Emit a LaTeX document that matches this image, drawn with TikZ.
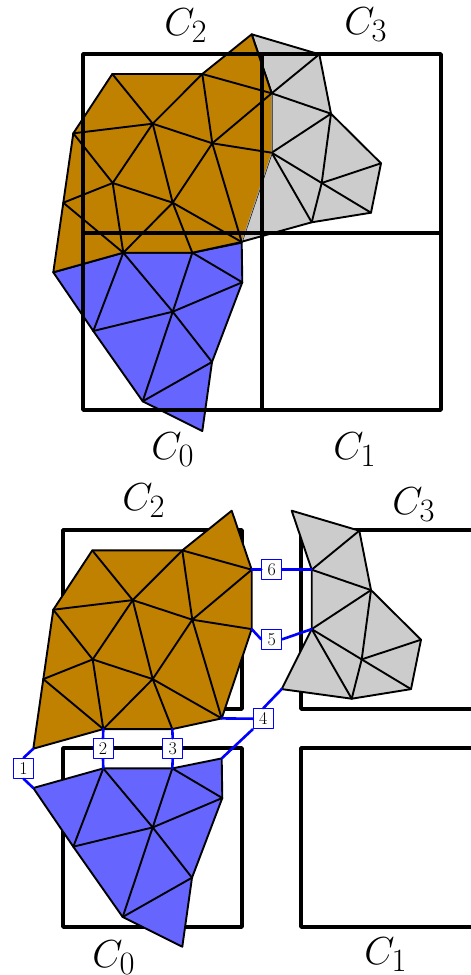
\documentclass[tikz,border=0pt]{standalone}
\definecolor{meshbrown}{RGB}{192,128,0}
\definecolor{meshblue}{RGB}{102,102,255}
\definecolor{meshgray}{RGB}{204,204,204}
\tikzset{
  mesh/.style={line width=1.9pt,black},
  seam/.style={mesh},
  frame/.style={line width=3.8pt,black},
  link/.style={line width=2.6pt,blue},
  tag/.style={draw=blue,line width=1pt,fill=white,minimum size=20pt,inner sep=0pt,font=\fontsize{18}{18}\selectfont},
  cell/.style={anchor=base west,inner sep=0pt,scale=1.57,font=\Huge},
}
\newcommand{\brownmesh}{
  \coordinate (T) at (251.7,34.3);
  \coordinate (p1) at (202.3,74);
  \coordinate (p2) at (112.3,74);
  \coordinate (p3) at (73.3,133.3);
  \coordinate (p4) at (63.3,202.7);
  \coordinate (a) at (53.3,272.3);
  \coordinate (b) at (123.3,252.7);
  \coordinate (c) at (192.3,252.7);
  \coordinate (d) at (241.7,242);
  \coordinate (q1) at (271.7,152.7);
  \coordinate (q2) at (271.7,93.3);
  \coordinate (m1) at (152.7,123.7);
  \coordinate (m2) at (212.3,143.3);
  \coordinate (m3) at (112.7,183);
  \coordinate (m4) at (172.7,202.7);
  \fill[meshbrown] (T) -- (q2) -- (q1) -- (d) -- (c) -- (b) -- (a) -- (p4) -- (p3) -- (p2) -- (p1) -- cycle;
  \draw[mesh] (q2) -- (T) -- (p1) -- (p2) -- (p3) -- (p4) -- (a) -- (b) -- (c) -- (d);
  \draw[seam] (q2) -- (q1) -- (d);
  \foreach \u/\v in {p2/m1,p1/m1,p3/m1,p1/m2,p1/q2,m1/m2,m2/q2,m2/q1,m1/m3,m1/m4,m3/m4,m2/m4,m2/d,p3/m3,p4/m3,p4/b,m3/b,m4/b,m4/c,m4/d}
    \draw[mesh] (\u) -- (\v);
}
\newcommand{\bluemesh}{
  \coordinate (a) at (53.3,272.3);
  \coordinate (b) at (123.3,252.7);
  \coordinate (c) at (192.3,252.7);
  \coordinate (d) at (241.7,242.7);
  \coordinate (e) at (242.3,282.3);
  \coordinate (f) at (172.7,311.7);
  \coordinate (g) at (93.3,331);
  \coordinate (h) at (212,362);
  \coordinate (i) at (142.7,401.3);
  \coordinate (j) at (202.3,431);
  \filldraw[mesh,fill=meshblue] (a) -- (b) -- (c) -- (d) -- (e) -- (h) -- (j) -- (i) -- (g) -- cycle;
  \foreach \u/\v in {g/b,b/f,c/f,c/e,f/e,g/f,f/h,f/i,i/h}
    \draw[mesh] (\u) -- (\v);
}
% #1 is the lower left corner of the patch
\newcommand{\graymesh}[1]{
  \coordinate (T) at (251.7,34.3);
  \coordinate (g1) at (319.3,54.3);
  \coordinate (g2) at (331,113.7);
  \coordinate (g3) at (381,163.3);
  \coordinate (g4) at (371,212.7);
  \coordinate (g5) at (311.7,222.3);
  \coordinate (g6) at #1;
  \coordinate (g7) at (321.7,183);
  \coordinate (q1) at (271.7,152.7);
  \coordinate (q2) at (271.7,93.3);
  \filldraw[mesh,fill=meshgray] (T) -- (g1) -- (g2) -- (g3) -- (g4) -- (g5) -- (g6) -- (q1) -- (q2) -- cycle;
  \foreach \u/\v in {q2/g1,q2/g2,q1/g2,g2/g7,g3/g7,g4/g7,q1/g7,q1/g5,g7/g5}
    \draw[mesh] (\u) -- (\v);
}
\begin{document}
\begin{tikzpicture}[x=1pt,y=-1pt,line cap=round,line join=round]
  \useasboundingbox (0,0) rectangle (471,975);
  % upper picture
  \begin{scope}[name prefix=up-gr-]
    \graymesh{(241.7,241.7)}
  \end{scope}
  \begin{scope}[name prefix=up-bl-]
    \bluemesh
  \end{scope}
  \begin{scope}[name prefix=up-br-,seam/.style={line width=0.7pt,black!35}]
    \brownmesh
  \end{scope}
  \draw[frame,line cap=butt] (83,54) rectangle (441,410);
  \draw[frame,line cap=butt] (262,54) -- (262,410);
  \draw[frame,line cap=butt] (83,233) -- (441,233);
  \node[cell] (up2) at (164,35) {$C_2$};
  \node[cell] (up3) at (344,34) {$C_3$};
  \node[cell] (up0) at (151,459) {$C_0$};
  \node[cell] (up1) at (333,459) {$C_1$};
  % lower picture
  \foreach \yy in {530,748} {
    \draw[frame] (63,\yy) rectangle (242,\yy+179);
    \draw[frame] (471,\yy) -- (301,\yy) -- (301,\yy+179) -- (471,\yy+179);
  }
  \begin{scope}[shift={(40,476.4)},name prefix=lo-gr-]
    \graymesh{(241.7,212.7)}
  \end{scope}
  \begin{scope}[shift={(-20,515.7)},name prefix=lo-bl-]
    \bluemesh
  \end{scope}
  \begin{scope}[shift={(-20,476.4)},name prefix=lo-br-]
    \brownmesh
  \end{scope}
  \node[tag] (n1) at (23.6,768.3) {1};
  \node[tag] (n2) at (103,748.7) {2};
  \node[tag] (n3) at (172.7,748.7) {3};
  \node[tag] (n4) at (263.3,718.7) {4};
  \node[tag] (n5) at (271.7,639.3) {5};
  \node[tag] (n6) at (271.7,569.7) {6};
  \draw[link] (lo-br-a) -- (n1.north);
  \draw[link] (lo-bl-a) -- (n1.south);
  \draw[link] (lo-br-b) -- (n2.north);
  \draw[link] (lo-bl-b) -- (n2.south);
  \draw[link] (lo-br-c) -- (n3.north);
  \draw[link] (lo-bl-c) -- (n3.south);
  \draw[link] (lo-br-d) -- (n4.west);
  \draw[link] (lo-bl-d) -- (n4.south west);
  \draw[link] (lo-gr-g6) -- (n4.north);
  \draw[link] (lo-br-q1) -- (n5.west);
  \draw[link] (lo-gr-q1) -- (n5.east);
  \draw[link] (lo-br-q2) -- (n6.west);
  \draw[link] (lo-gr-q2) -- (n6.east);
  \node[cell] (lo2) at (122,510) {$C_2$};
  \node[cell] (lo3) at (392,514) {$C_3$};
  \node[cell] (lo0) at (92,967) {$C_0$};
  \node[cell] (lo1) at (364,964) {$C_1$};
\end{tikzpicture}
\end{document}
